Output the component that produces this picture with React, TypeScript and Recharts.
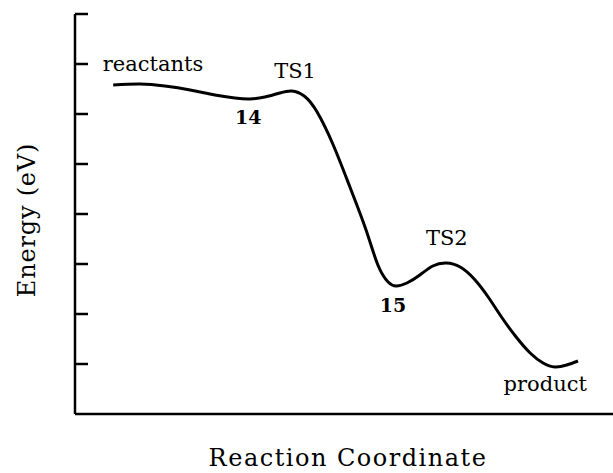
import React from 'react';
import { LineChart, Line, XAxis, YAxis, ReferenceDot } from 'recharts';

// reaction coordinate (arbitrary units) and energy (arbitrary eV levels)
const coordX = [0.71, 1.21, 1.67, 2.14, 2.6, 2.97, 3.25, 3.53, 3.81, 4.03, 4.26, 4.5, 4.8, 5.11, 5.41, 5.63, 5.82, 5.97, 6.17, 6.41, 6.65, 6.9, 7.16, 7.42, 7.68, 7.94, 8.2, 8.46, 8.7, 8.92, 9.14, 9.35];
const energy = [6.58, 6.6, 6.56, 6.48, 6.38, 6.32, 6.3, 6.34, 6.42, 6.46, 6.36, 6.04, 5.38, 4.54, 3.68, 2.98, 2.64, 2.56, 2.62, 2.78, 2.96, 3.02, 2.94, 2.7, 2.34, 1.92, 1.54, 1.22, 1.02, 0.94, 0.98, 1.06];

const yTicks = [1, 2, 3, 4, 5, 6, 7, 8];

const labelTexts = ['reactants', '14', 'TS1', '15', 'TS2', 'product'];
const labelX = [1.45, 3.22, 4.09, 5.91, 6.91, 8.74];
const labelY = [7.0, 5.94, 6.86, 2.18, 3.52, 0.6];
const labelBold = [false, true, false, true, false, false];

const data = coordX.map((x, i) => ({ x, e: energy[i] }));

const FONT = '"DejaVu Serif", serif';

const InwardTick = (props: any) => {
  const { x, y } = props;
  return <line x1={x} y1={y} x2={x + 13} y2={y} stroke="#000" strokeWidth={2.5} />;
};

export default function App() {
  return (
    <div style={{ position: 'absolute', left: 0, top: 0, width: 613, height: 473, background: '#fff' }}>
      <LineChart width={613} height={473} data={data} margin={{ top: 14, right: 0, bottom: 0, left: 0 }}>
        <XAxis
          type="number"
          dataKey="x"
          domain={[0, 10]}
          ticks={[]}
          tickLine={false}
          tick={false}
          height={59}
          axisLine={{ stroke: '#000', strokeWidth: 2.5 }}
          label={{
            value: 'Reaction Coordinate',
            position: 'insideBottom',
            offset: 7,
            dx: 4,
            style: { fontFamily: FONT, fontSize: 24, letterSpacing: 1.5, fill: '#000' },
          }}
        />
        <YAxis
          type="number"
          domain={[0, 8]}
          ticks={yTicks}
          width={75}
          tickSize={0}
          tickMargin={0}
          tickLine={false}
          tick={<InwardTick />}
          axisLine={{ stroke: '#000', strokeWidth: 2.5 }}
          label={{
            value: 'Energy (eV)',
            content: () => (
              <text
                x={27}
                y={220}
                transform="rotate(-90 27 220)"
                textAnchor="middle"
                dominantBaseline="central"
                style={{ fontFamily: FONT, fontSize: 24, letterSpacing: 0.8, fill: '#000' }}
              >
                Energy (eV)
              </text>
            ),
          }}
        />
        <Line
          type="natural"
          dataKey="e"
          stroke="#000"
          strokeWidth={3}
          dot={false}
          isAnimationActive={false}
        />
        {labelTexts.map((t, i) => (
          <ReferenceDot
            key={t}
            x={labelX[i]}
            y={labelY[i]}
            r={0}
            stroke="none"
            fill="none"
            label={{
              value: t,
              position: 'center',
              style: {
                fontFamily: FONT,
                fontSize: labelBold[i] ? 19 : 21,
                fontWeight: labelBold[i] ? 700 : 400,
                fill: '#000',
              },
            }}
          />
        ))}
      </LineChart>
    </div>
  );
}
